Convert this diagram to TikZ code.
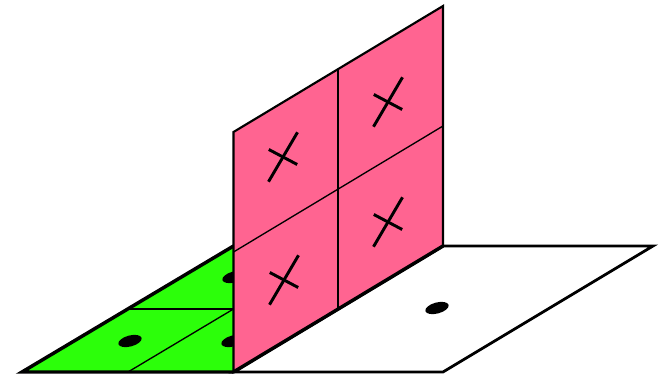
\documentclass[tikz,border=0pt]{standalone}
\usepackage{xcolor}
\usetikzlibrary{calc}
\definecolor{wallPink}{HTML}{FF6491}
\definecolor{floorGreen}{HTML}{2CFF0A}
\tikzset{
    floor_line/.style={draw=black, line width=2.1pt, line join=miter},
    wall_line/.style={draw=black, line width=1.6pt, line join=miter},
    grid_line/.style={draw=black, line width=1.0pt},
    hinge_line/.style={draw=black, line width=2.6pt},
    dot_mark/.style={x radius=12, y radius=5.5, rotate=15},
    cross_line/.style={draw=black, line width=2.2pt}
}
\begin{document}
\begin{tikzpicture}[x=0.75pt, y=-0.75pt]
    \useasboundingbox (0,0) rectangle (659,374);
    \coordinate (front) at (233.5,372);
    \coordinate (back) at (443,246);
    \coordinate (topfront) at (233.5,132);
    \coordinate (topback) at (443,6);

    % white floor
    \draw[floor_line, fill=white] (front) -- (443,372) -- (653,246) -- (back) -- cycle;
    \fill (437,308) ellipse [dot_mark];

    % green floor
    \fill[floorGreen] (22,372) -- (front) -- (233.5,246) -- cycle;
    \fill (234,277) ellipse [dot_mark];
    \fill (233,341) ellipse [dot_mark];
    \fill (130,341) ellipse [dot_mark];
    \draw[grid_line] (128,309) -- (233.5,309);
    \draw[grid_line] (128,372) -- (233.5,309);
    \draw[hinge_line] (233.5,246) -- (22,372) -- (front);

    % wall
    \draw[wall_line, fill=wallPink] (front) -- (topfront) -- (topback) -- (back) -- cycle;
    \draw[grid_line] (338,69) -- (338,309);
    \draw[grid_line] (233.5,252) -- (443,126);
    \draw[hinge_line] (front) -- (back);
    \foreach \cx/\cy in {283/157, 388/102, 388/222, 284/280} {
        \draw[cross_line] (\cx-14.5,\cy+24.7) -- (\cx+14.5,\cy-24.7);
        \draw[cross_line] (\cx-14.2,\cy-7.5) -- (\cx+14.2,\cy+7.5);
    }
\end{tikzpicture}
\end{document}
